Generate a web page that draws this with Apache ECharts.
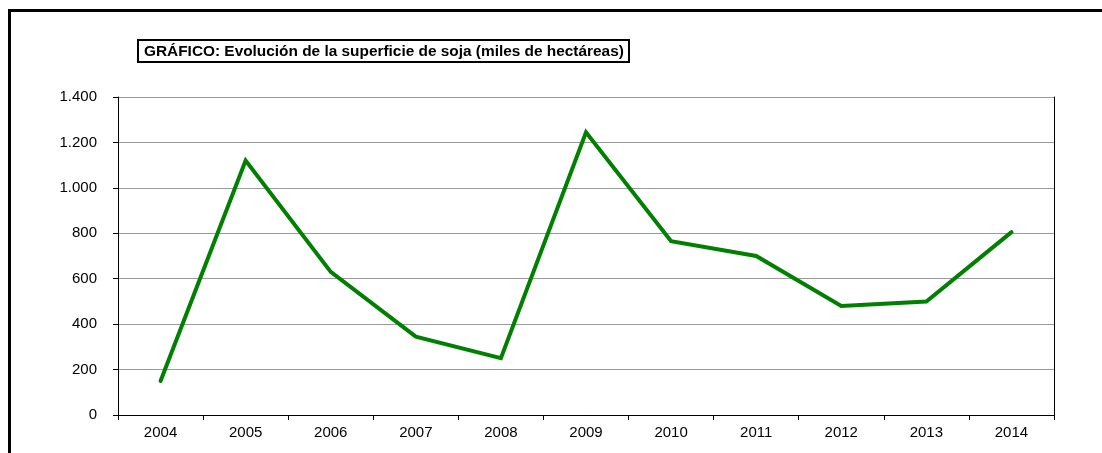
<!DOCTYPE html>
<html>
<head>
<meta charset="utf-8">
<script src="https://cdn.jsdelivr.net/npm/echarts@6/dist/echarts.min.js"></script>
<style>
  html, body { margin: 0; padding: 0; background: #fff; }
  #chart { width: 1102px; height: 453px; }
</style>
</head>
<body>
<div id="chart"></div>
<script>
// Superficie de soja por campaña (miles de hectáreas)
const years = ['2004', '2005', '2006', '2007', '2008', '2009', '2010', '2011', '2012', '2013', '2014'];
const superficie = [150, 1120, 630, 345, 250, 1245, 765, 700, 480, 500, 805];
const titulo = 'GRÁFICO: Evolución de la superficie de soja (miles de hectáreas)';

const FONT = '"Liberation Sans", Arial, sans-serif';

const chart = echarts.init(document.getElementById('chart'), null, { renderer: 'canvas' });

// Miles con punto como separador: 1400 -> 1.400
function fmtMiles(v) {
  return String(v).replace(/\B(?=(\d{3})+(?!\d))/g, '.');
}

chart.setOption({
  backgroundColor: '#ffffff',
  animation: false,
  title: {
    text: titulo,
    left: 138,
    top: 40,
    padding: [3, 5, 2, 6],
    borderColor: '#000',
    borderWidth: 2,
    textStyle: { fontFamily: FONT, fontSize: 15.4, lineHeight: 17, fontWeight: 'bold', color: '#000' }
  },
  graphic: [
    {
      type: 'polyline',
      silent: true,
      shape: { points: [[9.5, 460], [9.5, 10.5], [1110, 10.5]] },
      style: { stroke: '#000', lineWidth: 3, fill: null }
    }
  ],
  grid: { left: 118, right: 48, top: 97, bottom: 38 },
  xAxis: {
    type: 'category',
    data: years,
    boundaryGap: true,
    axisLine: { show: true, lineStyle: { color: '#000', width: 1 } },
    axisTick: { show: true, interval: 0, length: 5, lineStyle: { color: '#000' } },
    axisLabel: { interval: 0, margin: 10, color: '#000', fontFamily: FONT, fontSize: 15 },
    splitLine: { show: false }
  },
  yAxis: [
    {
      type: 'value',
      min: 0,
      max: 1400,
      interval: 200,
      axisLine: { show: true, lineStyle: { color: '#000', width: 1 } },
      axisTick: { show: true, length: 5, lineStyle: { color: '#000' } },
      axisLabel: { margin: 21, color: '#000', fontFamily: FONT, fontSize: 15, formatter: fmtMiles },
      splitLine: { show: true, lineStyle: { color: '#9a9a9a', width: 1 } }
    },
    {
      type: 'value',
      position: 'right',
      min: 0,
      max: 1400,
      interval: 200,
      axisLine: { show: true, lineStyle: { color: '#000', width: 1 } },
      axisTick: { show: false },
      axisLabel: { show: false },
      splitLine: { show: false }
    }
  ],
  series: [
    {
      type: 'line',
      data: superficie,
      yAxisIndex: 0,
      symbol: 'none',
      lineStyle: { color: '#008000', width: 4, cap: 'round', join: 'miter' },
      itemStyle: { color: '#008000' }
    }
  ]
});
</script>
</body>
</html>
